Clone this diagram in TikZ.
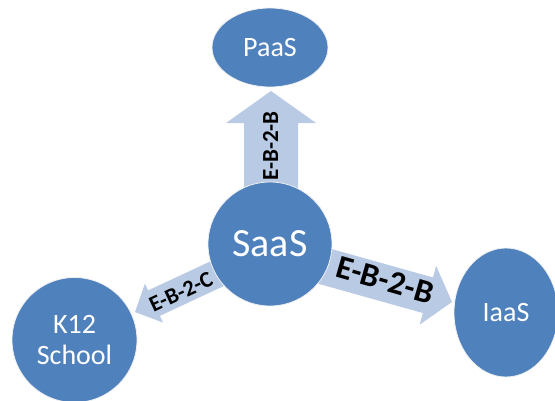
\documentclass[tikz,border=0pt]{standalone}
\usepackage{fontspec}
\setmainfont{Carlito}
\usetikzlibrary{calc,backgrounds,shapes.geometric}

\definecolor{nodeblue}{HTML}{4F81BD}
\definecolor{arrowblue}{HTML}{B8CAE4}

\tikzset{
  cloud/.style={fill=nodeblue, text=white, draw=black!6, line width=0.8pt,
    inner sep=0pt, align=center, font=\fontsize{28}{31}\selectfont},
  tag/.style={text=black, inner sep=0pt},
  arrowfill/.style={fill=arrowblue}
}

% Block arrow: #1 name, #2 tail, #3 tip, #4 half shaft width,
% #5 half head width, #6 head length
\newcommand\blockarrow[6]{%
  \coordinate (#1-b) at ($(#3)!#6!(#2)$);
  \fill[arrowfill] ($(#2)!#4!90:(#3)$) -- ($(#1-b)!#4!90:(#3)$)
    -- ($(#1-b)!#5!90:(#3)$) -- (#3) -- ($(#1-b)!#5!-90:(#3)$)
    -- ($(#1-b)!#4!-90:(#3)$) -- ($(#2)!#4!-90:(#3)$) -- cycle;
}

\begin{document}
\begin{tikzpicture}[x=1pt,y=1pt]
\useasboundingbox (0,0) rectangle (555,400);

% service nodes
\node[cloud, ellipse, minimum width=116pt, minimum height=79pt] (paas) at (270,352.5) {PaaS};
\node[cloud, circle, minimum size=124pt, font=\fontsize{40}{44}\selectfont] (saas) at (270,156) {SaaS};
\node[cloud, ellipse, minimum width=104pt, minimum height=129pt] (iaas) at (506,87.5) {IaaS};
\node[cloud, circle, minimum size=125pt] (k12) at (74.5,60) {K12\\School};

% arrow ends
\coordinate (uptip) at (271,309);
\coordinate (uptail) at ($(saas.center)+(1,0)$);
\coordinate (rttip) at (452,98);
\coordinate (rttail) at ($(saas.center)+(0,-7)$);
\coordinate (lftip) at (135,88);
\coordinate (lftail) at ($(saas.center)+(0,-5)$);

\begin{pgfonlayer}{background}
  \blockarrow{up}{uptail}{uptip}{27pt}{45pt}{32pt}
  \blockarrow{rt}{rttail}{rttip}{18.5pt}{30.5pt}{25pt}
  \blockarrow{lf}{lftail}{lftip}{14pt}{21.5pt}{21pt}
\end{pgfonlayer}

% arrow labels
\node[tag, rotate=90, font=\bfseries\fontsize{23}{23}\selectfont] (lblup) at (270.5,254) {E-B-2-B};
\node[tag, rotate=-16, font=\bfseries\fontsize{33}{33}\selectfont] (lblrt) at (385,120) {E-B-2-B};
\node[tag, rotate=25, font=\bfseries\fontsize{22.5}{22.5}\selectfont] (lbllf) at (181,108) {E-B-2-C};
\end{tikzpicture}
\end{document}
